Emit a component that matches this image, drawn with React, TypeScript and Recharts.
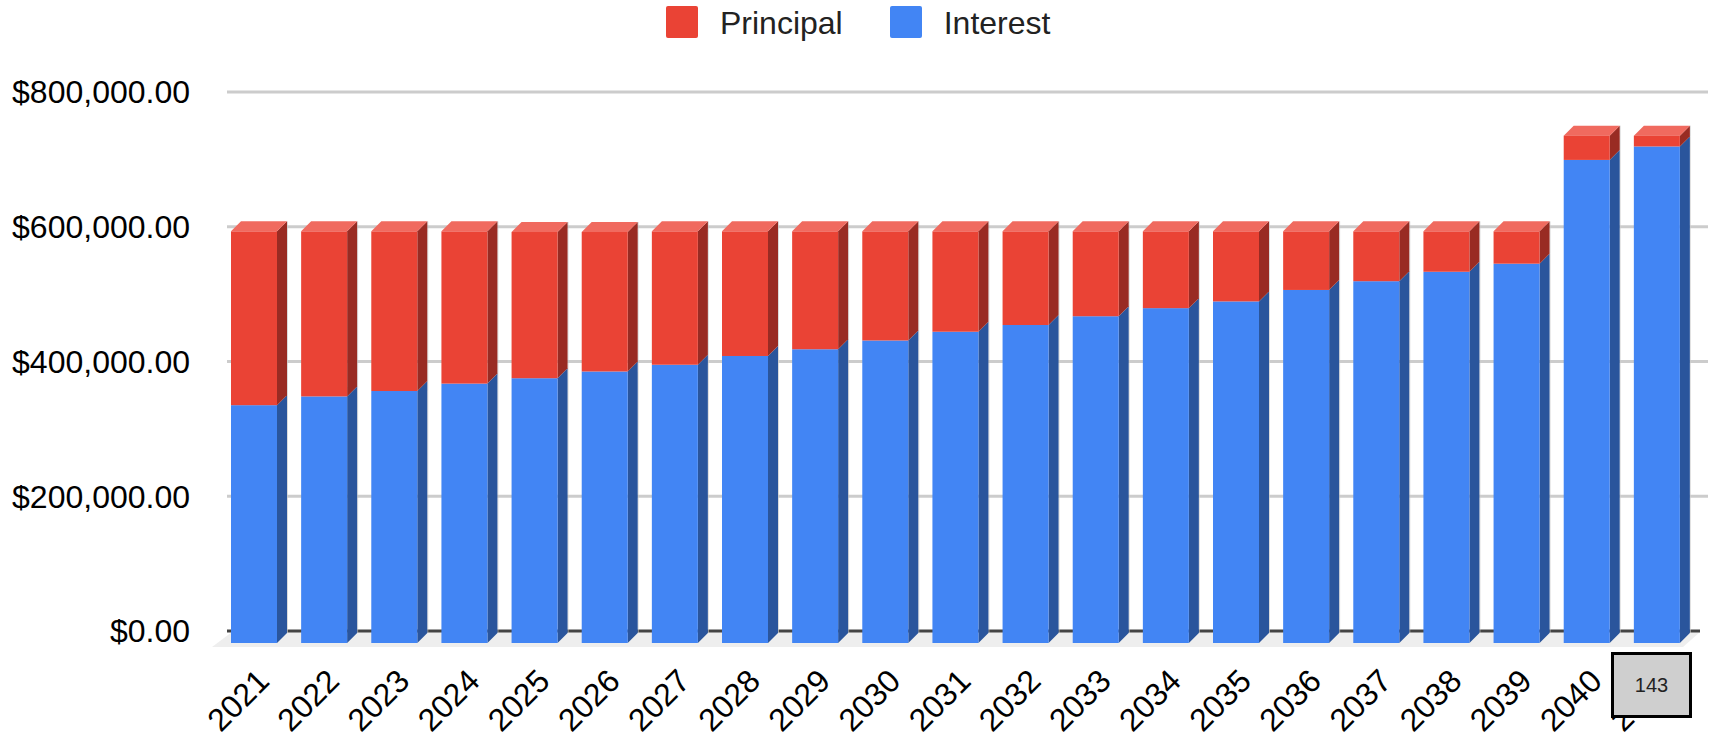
import { BarChart, Bar, XAxis, YAxis, CartesianGrid, Legend, ReferenceArea } from 'recharts'

const YEARS = ['2021', '2022', '2023', '2024', '2025', '2026', '2027', '2028', '2029', '2030', '2031', '2032', '2033', '2034', '2035', '2036', '2037', '2038', '2039', '2040', '2041']
const INTEREST = [353000, 366000, 374000, 385000, 393000, 403000, 413000, 426000, 436000, 449000, 462000, 472000, 485000, 497000, 507000, 524000, 537000, 551000, 563000, 717000, 737000]
const PRINCIPAL = [258000, 245000, 237000, 226000, 217000, 207000, 198000, 185000, 175000, 162000, 149000, 139000, 126000, 114000, 104000, 87000, 74000, 60000, 48000, 36000, 16000]
const Y_TICKS = [0, 200000, 400000, 600000, 800000]

const data = YEARS.map((year, i) => ({ year, interest: INTEREST[i], principal: PRINCIPAL[i] }))

const FONT = '"Liberation Sans", Arial, sans-serif'
const RED = '#EA4335'
const BLUE = '#4285F4'

// fake 3D: the front face sits in front of the axis plane, side and top go back by DEPTH
const DEPTH = 10
const SHIFT_X = -8
const SHIFT_Y = 12

function Bar3D({ x, y, width, height, fill, side, top }: any) {
  const l = x + SHIFT_X
  const t = y + SHIFT_Y
  const r = l + width
  const b = t + height
  return (
    <g>
      <line x1={r + DEPTH + 0.5} y1={t - DEPTH} x2={r + DEPTH + 0.5} y2={b - DEPTH} stroke="#cccccc" strokeOpacity={0.7} />
      <polygon points={`${r},${t} ${r + DEPTH},${t - DEPTH} ${r + DEPTH},${b - DEPTH} ${r},${b}`} fill={side} />
      {top && <polygon points={`${l},${t} ${l + DEPTH},${t - DEPTH} ${r + DEPTH},${t - DEPTH} ${r},${t}`} fill={top} />}
      <rect x={l} y={t} width={width} height={height} fill={fill} />
    </g>
  )
}

// floor of the 3D box plus the dark zero line, drawn under the bars
function Floor({ x, y, width, height }: any) {
  const b = y + height
  return (
    <g>
      <polygon points={`${x - 15},${b + 16} ${x + width - 17},${b + 16} ${x + width},${b + 1} ${x + 5},${b + 1}`} fill="#eeeeee" />
      <line x1={x} y1={b} x2={x + width} y2={b} stroke="#444444" strokeWidth={3} />
    </g>
  )
}

function YearTick({ x, y, payload }: any) {
  const tx = x + 9
  const ty = y + 44
  return (
    <text x={tx} y={ty} transform={`rotate(-45 ${tx} ${ty})`} textAnchor="end" fontSize={32} fontFamily={FONT} fill="#000">
      {payload.value}
    </text>
  )
}

function LegendRow({ payload }: any) {
  const items = [...(payload || [])].reverse()
  return (
    <div style={{ display: 'flex', justifyContent: 'flex-start', paddingLeft: 666, height: 44, alignItems: 'center', fontFamily: FONT, fontSize: 32, color: '#222' }}>
      {items.map((it: any) => (
        <div key={it.value} style={{ display: 'flex', alignItems: 'center', marginRight: 47 }}>
          <span style={{ width: 32, height: 32, background: it.color, borderRadius: 2, marginRight: 22 }} />
          <span style={{ position: 'relative', top: 1 }}>{it.value}</span>
        </div>
      ))}
    </div>
  )
}

export default function App() {
  return (
    <div style={{ position: 'absolute', left: 0, top: 0, width: 1718, height: 738, background: '#fff', overflow: 'hidden' }}>
      <BarChart width={1718} height={738} data={data} margin={{ top: 92, right: 10, bottom: 0, left: 0 }} barSize={46}>
        <CartesianGrid vertical={false} stroke="#cccccc" strokeWidth={3} horizontalValues={Y_TICKS.filter((v) => v > 0)} />
        <ReferenceArea y1={0} y2={800000} shape={<Floor />} ifOverflow="visible" />
        <XAxis dataKey="year" height={107} interval={0} axisLine={false} tickLine={false} tick={<YearTick />} padding={{ left: 0, right: 8 }} />
        <YAxis
          width={227}
          domain={[0, 800000]}
          ticks={Y_TICKS}
          axisLine={false}
          tickLine={false}
          tickMargin={31}
          tick={{ fontSize: 32, fontFamily: FONT, fill: '#000' }}
          tickFormatter={(v: number) => '$' + v.toLocaleString('en-US', { minimumFractionDigits: 2 })}
        />
        <Legend verticalAlign="middle" align="center" wrapperStyle={{ top: 0, left: 0, width: 1718 }} content={<LegendRow />} />
        <Bar dataKey="interest" name="Interest" stackId="a" fill={BLUE} isAnimationActive={false} shape={<Bar3D side="#2A559C" />} />
        <Bar dataKey="principal" name="Principal" stackId="a" fill={RED} isAnimationActive={false} shape={<Bar3D side="#992B23" top="#F06A5F" />} />
      </BarChart>
      <div style={{ position: 'absolute', left: 1611, top: 652, width: 81, height: 66, boxSizing: 'border-box', border: '3px solid #000', background: '#cfcfcf', display: 'flex', alignItems: 'center', justifyContent: 'center', fontFamily: FONT, fontSize: 20, color: '#222' }}>
        143
      </div>
    </div>
  )
}
